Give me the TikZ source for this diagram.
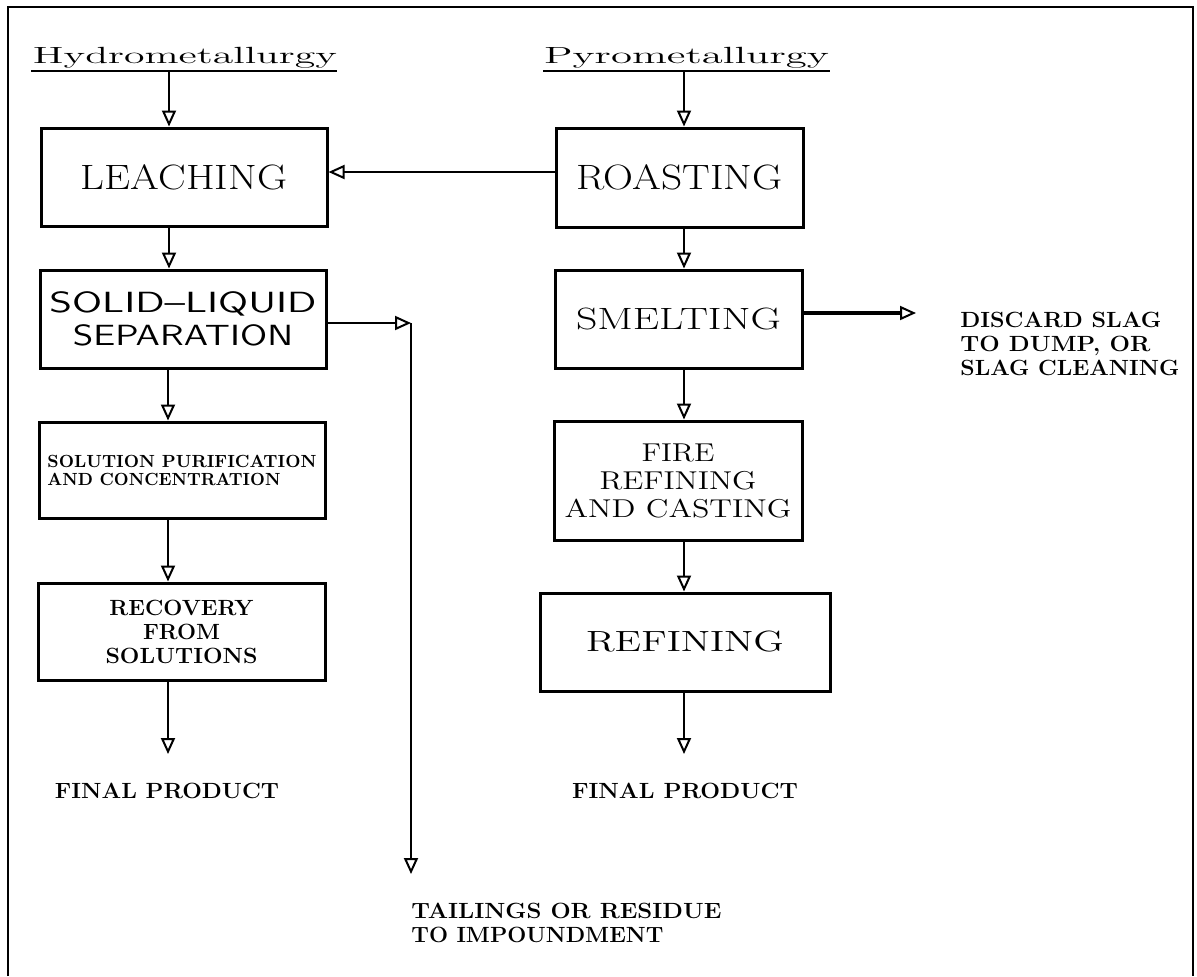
\documentclass[tikz,border=0pt]{standalone}
\usepackage{graphicx}
\usetikzlibrary{arrows.meta}
\newcommand\fw[2]{\resizebox{#1}{\height}{#2}}
\tikzset{
  boxn/.style={draw,line width=1.5pt,inner sep=0pt,align=center},
  arr/.style={line width=1.1pt,-{Triangle[open,length=8pt,width=7pt,line width=1pt]}},
  arrthick/.style={line width=2pt,-{Triangle[open,length=8pt,width=7pt,line width=1pt]}},
  lbl/.style={inner sep=0pt},
  frame/.style={line width=1pt},
}
\begin{document}
\begin{tikzpicture}[x=0.5pt,y=-0.5pt]
\useasboundingbox (0,0) rectangle (1197,976);
\draw[frame] (8,976) -- (8,7) -- (1193,7) -- (1193,976);

% headings
\node[lbl,anchor=base,font=\fontsize{11.7}{13}\selectfont] (hydro) at (185,63) {\fw{152pt}{Hydrometallurgy}};
\node[lbl,anchor=base,font=\fontsize{11.7}{13}\selectfont] (pyro) at (686.5,63) {\fw{142.5pt}{Pyrometallurgy}};
\draw[line width=1pt] (31,71) -- (337,71);
\draw[line width=1pt] (543,71) -- (830,71);
\coordinate (hL) at (169,71);
\coordinate (hR) at (684,71);

% boxes
\node[boxn,minimum width=143pt,minimum height=49pt,font=\fontsize{17.6}{20}\selectfont] (leach) at (184,177) {\fw{103pt}{LEACHING}};
\node[boxn,minimum width=123.5pt,minimum height=49.5pt,font=\fontsize{17.6}{20}\selectfont] (roast) at (679.5,177.5) {\fw{103pt}{ROASTING}};
\node[boxn,minimum width=143pt,minimum height=49pt,font=\sffamily\fontsize{14.6}{16.5}\selectfont] (slsep) at (183,319) {\fw{133.5pt}{SOLID--LIQUID}\\\fw{110pt}{SEPARATION}};
\node[boxn,align=left,minimum width=143pt,minimum height=48pt,font=\bfseries\fontsize{8.8}{9}\selectfont] (purif) at (182,470) {\fw{134.5pt}{SOLUTION PURIFICATION}\\\fw{116.5pt}{AND CONCENTRATION}};
\node[boxn,minimum width=143.5pt,minimum height=48.5pt,font=\bfseries\fontsize{11}{12}\selectfont] (recov) at (181.5,631.5) {\fw{72pt}{RECOVERY}\\\fw{38.5pt}{FROM}\\\fw{76pt}{SOLUTIONS}};
\node[boxn,minimum width=123.5pt,minimum height=49pt,font=\fontsize{15.4}{17}\selectfont] (smelt) at (678.5,319) {\fw{102.5pt}{SMELTING}};
\node[boxn,minimum width=124pt,minimum height=59.5pt,font=\fontsize{12.9}{14}\selectfont] (fire) at (678,480.5) {\fw{36.5pt}{FIRE}\\\fw{78.5pt}{REFINING}\\\fw{113.5pt}{AND CASTING}};
\node[boxn,minimum width=145pt,minimum height=49pt,font=\fontsize{14.6}{16}\selectfont] (refin) at (685,642) {\fw{99pt}{REFINING}};

% output labels
\node[lbl,font=\bfseries\fontsize{11}{12}\selectfont] (finL) at (167,790.5) {\fw{112pt}{FINAL PRODUCT}};
\node[lbl,font=\bfseries\fontsize{11}{12}\selectfont] (finR) at (685,790.5) {\fw{113pt}{FINAL PRODUCT}};
\node[lbl,anchor=north west,align=left,font=\bfseries\fontsize{11}{12}\selectfont] (tail) at (411,903) {\fw{155pt}{TAILINGS OR RESIDUE}\\\fw{126pt}{TO IMPOUNDMENT}};
\node[lbl,anchor=north west,align=left,font=\bfseries\fontsize{11}{12}\selectfont] (slag) at (960,312) {\fw{100.5pt}{DISCARD SLAG}\\\fw{95pt}{TO DUMP, OR}\\\fw{109.5pt}{SLAG CLEANING}};

% free ends
\coordinate (endL) at (168,754);
\coordinate (endR) at (684,754);
\coordinate (tj) at (411,323);
\coordinate (tend) at (411,874);
\coordinate (slagEnd) at (916,313);
\coordinate (rowA) at (0,172);

% connectors
\draw[arr] (hL) -- (leach.north -| hL);
\draw[arr] (leach.south -| hL) -- (slsep.north -| hL);
\draw[arr] (slsep.south -| endL) -- (purif.north -| endL);
\draw[arr] (purif.south -| endL) -- (recov.north -| endL);
\draw[arr] (recov.south -| endL) -- (endL);
\draw[arr] (slsep.east |- tj) -- (tj);
\draw[arr] (tj) -- (tend);

\draw[arr] (hR) -- (roast.north -| hR);
\draw[arr] (roast.west |- rowA) -- (leach.east |- rowA);
\draw[arr] (roast.south -| hR) -- (smelt.north -| hR);
\draw[arrthick] (smelt.east |- slagEnd) -- (slagEnd);
\draw[arr] (smelt.south -| hR) -- (fire.north -| hR);
\draw[arr] (fire.south -| hR) -- (refin.north -| hR);
\draw[arr] (refin.south -| endR) -- (endR);
\end{tikzpicture}
\end{document}
